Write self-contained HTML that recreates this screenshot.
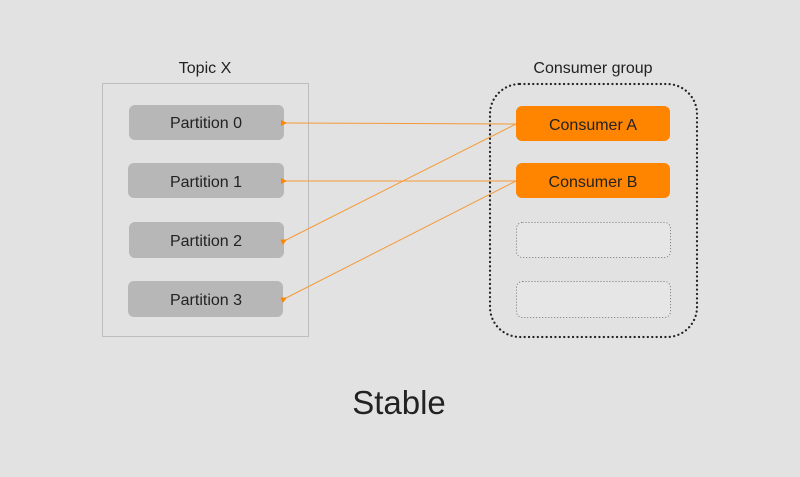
<!DOCTYPE html>
<html><head><style>
body{margin:0;background:#e2e2e2;}
svg{display:block}
text{font-family:"Liberation Sans",sans-serif;fill:#222}
</style></head><body>
<svg width="800" height="477" viewBox="0 0 800 477">
<rect width="800" height="477" fill="#e2e2e2"/>
<text x="205" y="73" font-size="16" text-anchor="middle">Topic X</text>
<rect x="102.5" y="83.5" width="206" height="253" fill="none" stroke="#bdbdbd"/>
<g fill="#b7b7b7">
<rect x="129" y="105" width="155" height="35" rx="6"/>
<rect x="128" y="163" width="156" height="35" rx="6"/>
<rect x="129" y="222" width="155" height="36" rx="6"/>
<rect x="128" y="281" width="155" height="36" rx="6"/>
</g>
<g font-size="16" text-anchor="middle">
<text x="206" y="128">Partition 0</text>
<text x="206" y="187">Partition 1</text>
<text x="206" y="246">Partition 2</text>
<text x="206" y="305">Partition 3</text>
</g>
<text x="593" y="73" font-size="16" text-anchor="middle">Consumer group</text>
<rect x="490" y="84" width="207" height="253" rx="30" fill="none" stroke="#222" stroke-width="2.2" stroke-dasharray="0.1 4.3" stroke-linecap="round"/>
<rect x="516" y="106" width="154" height="35" rx="6" fill="#ff8400"/>
<rect x="516" y="163" width="154" height="35" rx="6" fill="#ff8400"/>
<text x="593" y="130" font-size="16" text-anchor="middle">Consumer A</text>
<text x="593" y="187" font-size="16" text-anchor="middle">Consumer B</text>
<rect x="516.5" y="222.5" width="154" height="35" rx="6" fill="#e6e6e6" stroke="#777" stroke-dasharray="1 2"/>
<rect x="516.5" y="281.5" width="154" height="36" rx="6" fill="#e6e6e6" stroke="#777" stroke-dasharray="1 2"/>
<defs><marker id="a" markerWidth="6" markerHeight="6" refX="1" refY="3" orient="auto"><path d="M6,0 L0,3 L6,6 z" fill="#ff8400"/></marker></defs>
<g stroke="#f59a3a" stroke-width="1" fill="none">
<line x1="516" y1="124" x2="286" y2="123" marker-end="url(#a)"/>
<line x1="516" y1="124" x2="286" y2="240" marker-end="url(#a)"/>
<line x1="516" y1="181" x2="286" y2="181" marker-end="url(#a)"/>
<line x1="516" y1="181" x2="286" y2="298" marker-end="url(#a)"/>
</g>
<text x="399" y="414" font-size="33" text-anchor="middle">Stable</text>
</svg>
</body></html>
